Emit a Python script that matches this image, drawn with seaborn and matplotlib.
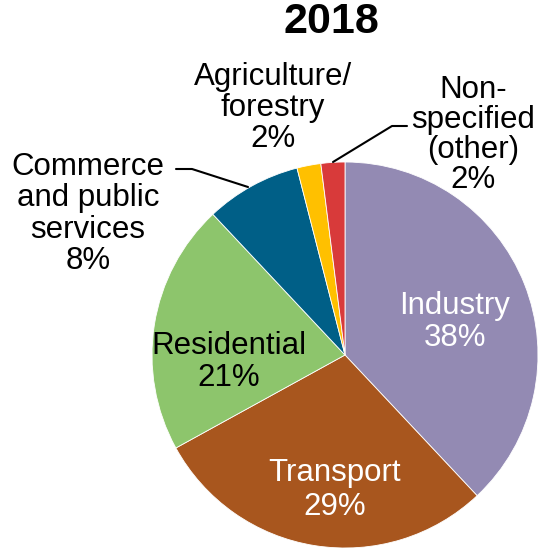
import matplotlib
matplotlib.use("Agg")
import matplotlib.pyplot as plt
import seaborn as sns

sns.set_theme(style="white")
plt.rcParams['font.family'] = ['Liberation Sans', 'DejaVu Sans']
plt.rcParams['text.color'] = 'black'

sectors = ["Industry", "Transport", "Residential", "Commerce and public services",
           "Agriculture/forestry", "Non-specified (other)"]
shares = [38, 29, 21, 8, 2, 2]
colors = ["#938AB3", "#A8561E", "#8DC56C", "#005F87", "#FFC000", "#D83A3A"]

W, H = 540, 549
fig = plt.figure(figsize=(W / 100, H / 100), dpi=100)
ax = fig.add_axes([0, 0, 1, 1])

cx, cy, r = 345, 355, 193
# y axis runs downward, so start at -90 and go counterclockwise in data space
ax.pie(shares, colors=colors, startangle=-90, counterclock=True,
       center=(cx, cy), radius=r, frame=True,
       wedgeprops=dict(linewidth=0.6, edgecolor="white"))
ax.set_xlim(0, W)
ax.set_ylim(H, 0)
ax.set_aspect("equal")
ax.axis("off")

fs = 22.5
ax.text(331, 22, "2018", ha="center", va="center", fontsize=31, fontweight="bold")
ax.text(455, 322, "Industry\n38%", ha="center", va="center", fontsize=fs,
        color="white", linespacing=1.1)
ax.text(335, 490, "Transport\n29%", ha="center", va="center", fontsize=fs,
        color="white", linespacing=1.2)
ax.text(229, 362, "Residential\n21%", ha="center", va="center", fontsize=fs,
        linespacing=1.1)
ax.text(88, 214, "Commerce\nand public\nservices\n8%", ha="center", va="center",
        fontsize=fs, linespacing=1.05)
ax.text(273, 108, "Agriculture/\nforestry\n2%", ha="center", va="center",
        fontsize=fs, linespacing=1.05)
ax.text(473, 135, "Non-\nspecified\n(other)\n2%", ha="center", va="center",
        fontsize=fs, linespacing=1.0)

# leader lines
ax.plot([176, 192, 248], [169, 169, 187], color="black", lw=1.5)
ax.plot([333, 392, 407], [162, 126, 126], color="black", lw=1.5)

fig.savefig("out.png", dpi=100)
